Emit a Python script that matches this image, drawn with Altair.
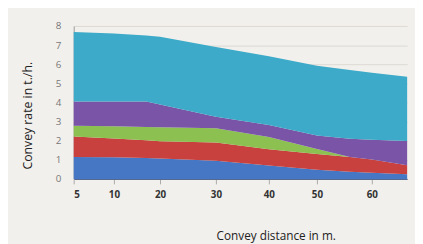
import altair as alt
import pandas as pd

distance = [5, 10, 17, 20, 30, 40, 50, 56, 60, 66.5]
series_names = ["Series 1", "Series 2", "Series 3", "Series 4", "Series 5"]
s1 = [1.15, 1.13, 1.10, 1.07, 0.95, 0.70, 0.48, 0.38, 0.32, 0.25]
s2 = [1.07, 0.99, 0.92, 0.90, 0.95, 0.85, 0.82, 0.77, 0.70, 0.47]
s3 = [0.56, 0.64, 0.70, 0.73, 0.75, 0.64, 0.27, 0.00, 0.00, 0.00]
s4 = [1.27, 1.29, 1.33, 1.20, 0.60, 0.63, 0.70, 0.95, 1.03, 1.26]
s5 = [3.64, 3.55, 3.45, 3.54, 3.65, 3.59, 3.65, 3.60, 3.50, 3.37]
colors = ["#4677c4", "#c8413f", "#8cc152", "#7a55a7", "#3caac8"]
x_ticks = [5, 10, 20, 30, 40, 50, 60]

rows = []
for k, (name, vals) in enumerate(zip(series_names, [s1, s2, s3, s4, s5])):
    for d, v in zip(distance, vals):
        rows.append({"distance": d, "rate": v, "series": name, "order": k})
df = pd.DataFrame(rows)

chart = alt.Chart(df).mark_area(interpolate="linear").encode(
    x=alt.X("distance:Q",
            scale=alt.Scale(domain=[5, 10, 20, 30, 40, 50, 60, 66.5],
                            range=[0, 41, 88, 145, 199, 248, 304, 340]),
            axis=alt.Axis(values=x_ticks, title="Convey distance in m.",
                          grid=False, domainColor="#4a5f8a", tickColor="#aaaaaa",
                          tickSize=5, labelPadding=6, labelFontWeight="bold",
                          labelColor="#333333", labelFontSize=10,
                          titleFontWeight="normal", titleFontSize=12,
                          titleColor="#222222", titleBaseline="middle",
                          titleX=206, titleY=58)),
    y=alt.Y("rate:Q", stack="zero",
            scale=alt.Scale(domain=[0, 8]),
            axis=alt.Axis(values=[0, 1, 2, 3, 4, 5, 6, 7, 8], title="Convey rate in t./h.",
                          grid=True, gridColor="#dcd9d4", domainColor="#9a9a9a",
                          ticks=False, labelPadding=13, labelColor="#777777",
                          labelFontSize=10, titleFontWeight="normal",
                          titleFontSize=12.5, titleColor="#222222",
                          titleBaseline="middle", titleX=-47, titleY=91)),
    color=alt.Color("series:N", scale=alt.Scale(domain=series_names, range=colors),
                    legend=None),
    order=alt.Order("order:Q", sort="ascending"),
).properties(
    width=340, height=156,
    autosize=alt.AutoSizeParams(type="none"),
    padding={"left": 67, "top": 16, "right": 8, "bottom": 64},
    background="#f2f0ec",
).configure_view(
    stroke=None, fill="#f2f0ec"
).configure_axis(
    labelFont="Open Sans", titleFont="Open Sans"
)

chart.save("out.html", embed_options={"renderer": "svg", "actions": False})
